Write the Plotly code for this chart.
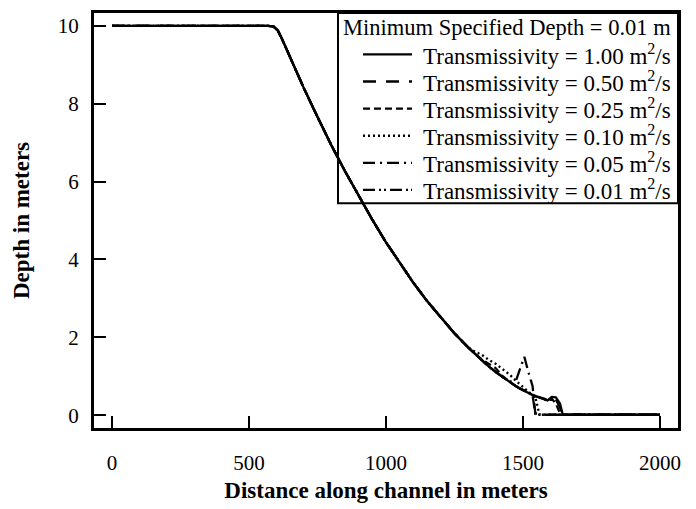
import plotly.graph_objects as go

# ---- data ----
x_upstream = [0, 500, 570, 590, 605, 620, 650, 700, 750, 800, 850, 900, 950,
              1000, 1050, 1100, 1150, 1200, 1250, 1300]
depth_upstream = [10.0, 10.0, 10.0, 9.98, 9.88, 9.67, 9.18, 8.40, 7.66, 6.94,
                  6.27, 5.63, 5.02, 4.44, 3.91, 3.40, 2.93, 2.50, 2.10, 1.74]

x_front = [1325, 1350, 1375, 1400, 1425, 1450, 1475, 1490, 1505, 1520, 1535,
           1545, 1560, 1575, 1590, 1605, 1620, 1635, 1645, 1660, 2000]

depth_T100 = [1.57, 1.41, 1.25, 1.11, 0.98, 0.85, 0.74, 0.68, 0.62, 0.57, 0.52,
              0.49, 0.46, 0.42, 0.38, 0.47, 0.46, 0.30, 0.02, 0.01, 0.01]
depth_T050 = [1.57, 1.41, 1.25, 1.11, 0.98, 0.85, 0.74, 0.68, 0.62, 0.57, 0.52,
              0.49, 0.46, 0.43, 0.40, 0.44, 0.40, 0.20, 0.01, 0.01, 0.01]
depth_T025 = [1.57, 1.43, 1.31, 1.21, 1.01, 0.86, 0.74, 0.68, 0.62, 0.57, 0.52,
              0.49, 0.46, 0.42, 0.36, 0.42, 0.30, 0.05, 0.01, 0.01, 0.01]
depth_T010 = [1.63, 1.55, 1.42, 1.32, 1.18, 1.05, 0.88, 0.78, 0.68, 0.60, 0.52,
              0.47, 0.02, 0.01, 0.01, 0.01, 0.01, 0.01, 0.01, 0.01, 0.01]
depth_T005 = [1.57, 1.41, 1.25, 1.11, 0.98, 0.86, 0.90, 1.20, 1.50, 1.10, 0.75,
              0.05, 0.01, 0.01, 0.01, 0.01, 0.01, 0.01, 0.01, 0.01, 0.01]
depth_T001 = [1.57, 1.41, 1.25, 1.11, 0.98, 0.85, 0.74, 0.68, 0.62, 0.57, 0.52,
              0.03, 0.01, 0.01, 0.01, 0.01, 0.01, 0.01, 0.01, 0.01, 0.01]

legend_title = "Minimum Specified Depth = 0.01 m"
series_names = ["Transmissivity = 1.00 m<sup>2</sup>/s",
                "Transmissivity = 0.50 m<sup>2</sup>/s",
                "Transmissivity = 0.25 m<sup>2</sup>/s",
                "Transmissivity = 0.10 m<sup>2</sup>/s",
                "Transmissivity = 0.05 m<sup>2</sup>/s",
                "Transmissivity = 0.01 m<sup>2</sup>/s"]
series_depths = [depth_T100, depth_T050, depth_T025, depth_T010, depth_T005, depth_T001]
series_dash = ["solid", "13px,10px", "7px,4px", "2px,3px",
               "12px,5px,2px,5px", "12px,4px,2px,3px,2px,4px"]

x_ticks = [0, 500, 1000, 1500, 2000]
y_ticks = [0, 2, 4, 6, 8, 10]

FONT = "Liberation Serif, Times New Roman, serif"

# plot-area geometry in pixels (used only to place the hand-drawn legend box)
W, H = 696, 509
L, R, T, B = 94, 18, 10, 78
PW, PH = W - L - R, H - T - B


def px_x(p):
    return (p - L) / PW


def px_y(p):
    return (H - B - p) / PH


fig = go.Figure()
for name, depth, dash in zip(series_names, series_depths, series_dash):
    fig.add_trace(go.Scatter(
        x=x_upstream + x_front,
        y=depth_upstream + depth,
        mode="lines",
        name=name,
        line=dict(color="black", width=2.3, dash=dash),
        showlegend=False,
    ))

# legend box (drawn manually so its layout matches the reference)
shapes = [dict(type="rect", xref="paper", yref="paper",
               x0=px_x(338), x1=1.0, y0=px_y(203), y1=1.0,
               line=dict(color="black", width=2), fillcolor="rgba(0,0,0,0)",
               layer="above")]
annotations = [dict(text=legend_title, xref="paper", yref="paper",
                    x=px_x(673), y=px_y(25), xanchor="right", yanchor="middle",
                    showarrow=False,
                    font=dict(family=FONT, size=22.5, color="black"))]
row0, dy = 52, 27.5
for i, (name, dash) in enumerate(zip(series_names, series_dash)):
    yc = row0 + i * dy
    shapes.append(dict(type="line", xref="paper", yref="paper",
                       x0=px_x(363), x1=px_x(412), y0=px_y(yc), y1=px_y(yc),
                       line=dict(color="black", width=2.3, dash=dash),
                       layer="above"))
    annotations.append(dict(text=name, xref="paper", yref="paper",
                            x=px_x(673), y=px_y(yc), xanchor="right",
                            yanchor="middle", showarrow=False,
                            font=dict(family=FONT, size=23, color="black")))

fig.update_layout(
    width=W, height=H,
    margin=dict(l=L, r=R, t=T, b=B),
    paper_bgcolor="white", plot_bgcolor="white",
    font=dict(family=FONT, size=21, color="black"),
    showlegend=False,
    shapes=shapes,
    annotations=annotations,
)

fig.update_xaxes(
    range=[-66, 2066], tickvals=x_ticks, ticktext=[str(v) for v in x_ticks],
    showgrid=False, zeroline=False,
    showline=True, linecolor="black", linewidth=3, mirror=True,
    ticks="inside", ticklen=12, tickwidth=2, tickcolor="black",
    ticklabelstandoff=14,
    tickfont=dict(family=FONT, size=21, color="black"),
    title=dict(text="<b>Distance along channel in meters</b>", standoff=8,
               font=dict(family=FONT, size=23, color="black")),
)
fig.update_yaxes(
    range=[-0.33, 10.33], tickvals=y_ticks, ticktext=[str(v) for v in y_ticks],
    showgrid=False, zeroline=False,
    showline=True, linecolor="black", linewidth=3, mirror=True,
    ticks="inside", ticklen=12, tickwidth=2, tickcolor="black",
    ticklabelstandoff=8,
    tickfont=dict(family=FONT, size=21, color="black"),
    title=dict(text="<b>Depth in meters</b>", standoff=22,
               font=dict(family=FONT, size=23, color="black")),
)

fig.write_html("out.html")
